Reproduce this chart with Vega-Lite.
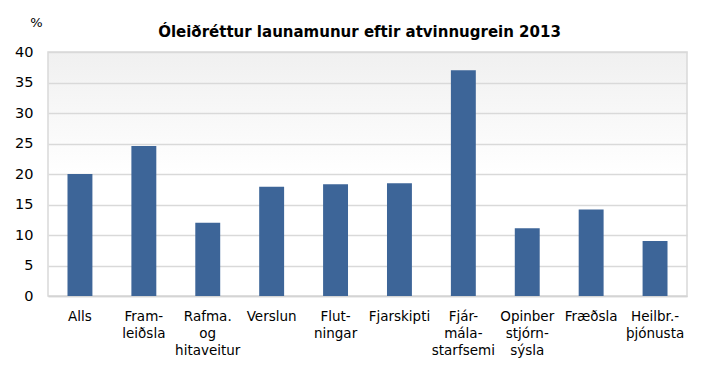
{
  "$schema": "https://vega.github.io/schema/vega-lite/v6.json",
  "width": 639,
  "height": 244,
  "autosize": {"type": "none"},
  "padding": {"left": 48, "top": 52, "right": 26, "bottom": 89},
  "background": "#ffffff",
  "title": {
    "text": "Óleiðréttur launamunur eftir atvinnugrein 2013",
    "font": "DejaVu Sans",
    "fontSize": 15,
    "fontWeight": "bold",
    "color": "#000000",
    "anchor": "middle",
    "frame": "group",
    "offset": 0,
    "dy": 24,
    "dx": -8
  },
  "data": {
    "values": [
      {"grein": "Alls", "munur": 20.0},
      {"grein": "Fram- leiðsla", "munur": 24.6},
      {"grein": "Rafma. og hitaveitur", "munur": 12.0},
      {"grein": "Verslun", "munur": 17.9},
      {"grein": "Flut- ningar", "munur": 18.3},
      {"grein": "Fjarskipti", "munur": 18.5},
      {"grein": "Fjár- mála- starfsemi", "munur": 37.0},
      {"grein": "Opinber stjórn- sýsla", "munur": 11.1},
      {"grein": "Fræðsla", "munur": 14.2},
      {"grein": "Heilbr.- þjónusta", "munur": 9.0}
    ]
  },
  "mark": {"type": "bar", "color": "#3d6598"},
  "encoding": {
    "x": {
      "field": "grein",
      "type": "nominal",
      "sort": null,
      "scale": {"paddingInner": 0.61, "paddingOuter": 0.305},
      "axis": {
        "title": null,
        "labelAngle": 0,
        "labelExpr": "split(datum.value, ' ')",
        "labelFont": "DejaVu Sans",
        "labelFontSize": 13.5,
        "labelColor": "#000000",
        "labelLineHeight": 17,
        "labelPadding": 24,
        "labelBaseline": "alphabetic",
        "labelOverlap": false,
        "ticks": false,
        "domain": true,
        "domainColor": "#d4d4d4",
        "domainWidth": 1.5,
        "grid": false
      }
    },
    "y": {
      "field": "munur",
      "type": "quantitative",
      "scale": {"domain": [0, 40]},
      "axis": {
        "values": [0, 5, 10, 15, 20, 25, 30, 35, 40],
        "title": "%",
        "titleAngle": 0,
        "titleX": -12,
        "titleY": -26,
        "titleAlign": "center",
        "titleBaseline": "alphabetic",
        "titleFont": "DejaVu Sans",
        "titleFontSize": 13,
        "titleFontWeight": "normal",
        "titleColor": "#000000",
        "labelFont": "DejaVu Sans",
        "labelFontSize": 14.5,
        "labelColor": "#000000",
        "labelPadding": 15,
        "ticks": false,
        "domain": false,
        "gridColor": "#d9d9d9",
        "gridWidth": 1.5
      }
    }
  },
  "config": {
    "view": {
      "stroke": "#d9d9d9",
      "strokeWidth": 1.5,
      "fill": {
        "gradient": "linear",
        "x1": 0, "y1": 0, "x2": 0, "y2": 1,
        "stops": [
          {"offset": 0, "color": "#f0f0f0"},
          {"offset": 0.5, "color": "#ffffff"},
          {"offset": 1, "color": "#ffffff"}
        ]
      }
    }
  }
}
